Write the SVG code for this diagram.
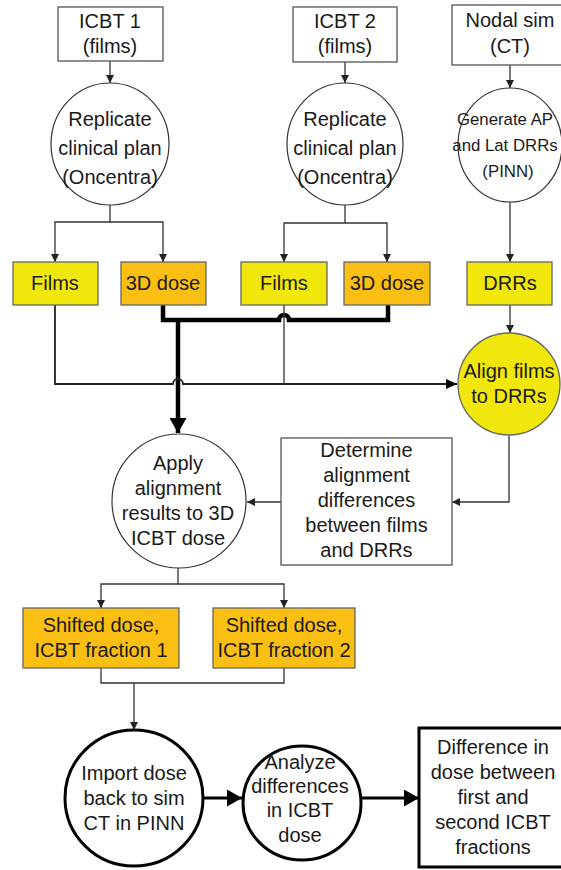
<svg xmlns="http://www.w3.org/2000/svg" width="561" height="870" viewBox="0 0 561 870">
<style>
text{font-family:"Liberation Sans",Arial,sans-serif;font-size:20px;fill:#1a1a1a;text-anchor:middle}
.s{font-size:16.8px}
.box{fill:#fff;stroke:#555;stroke-width:1.3}
.yel{fill:#f2e70c;stroke:#666;stroke-width:1.3}
.org{fill:#fbbf14;stroke:#666;stroke-width:1.3}
.circ{fill:#fff;stroke:#333;stroke-width:1.2}
.bold{fill:#fff;stroke:#000;stroke-width:3}
.ln{fill:none;stroke:#333;stroke-width:1.3}
.thk{fill:none;stroke:#000;stroke-width:4.5}
.med{fill:none;stroke:#222;stroke-width:1.8}
.b3{fill:none;stroke:#000;stroke-width:3}
</style>
<defs>
<marker id="a" viewBox="0 0 8 8" refX="8" refY="4" markerWidth="8" markerHeight="8" markerUnits="userSpaceOnUse" orient="auto"><path d="M0,0L8,4L0,8z" fill="#222"/></marker>
<marker id="m" viewBox="0 0 11 10" refX="11" refY="5" markerWidth="11" markerHeight="10" markerUnits="userSpaceOnUse" orient="auto"><path d="M0,0L11,5L0,10z" fill="#000"/></marker>
<marker id="t" viewBox="0 0 15 17" refX="15" refY="8.5" markerWidth="15" markerHeight="17" markerUnits="userSpaceOnUse" orient="auto"><path d="M0,0L15,8.5L0,17z" fill="#000"/></marker>
</defs>
<g id="connectors">
<path class="ln" d="M110,61V83" marker-end="url(#a)"/>
<path class="ln" d="M345,62V83" marker-end="url(#a)"/>
<path class="ln" d="M510,65V88" marker-end="url(#a)"/>
<path class="ln" d="M110,205V222H55V262" marker-end="url(#a)"/>
<path class="ln" d="M110,222H163V262" marker-end="url(#a)"/>
<path class="ln" d="M345,205V223H284V262" marker-end="url(#a)"/>
<path class="ln" d="M345,223H387V262" marker-end="url(#a)"/>
<path class="ln" d="M510,202V262" marker-end="url(#a)"/>
<path class="ln" d="M510,305V333" marker-end="url(#a)"/>
<path class="thk" d="M163,305V320H279a5,5 0 0 1 10,0H388V305"/>
<path class="thk" d="M178,320V433" marker-end="url(#t)"/>
<path class="med" d="M55,305V384H173a5,5 0 0 1 10,0H457" marker-end="url(#m)"/>
<path class="ln" d="M284,305V384"/>
<path class="ln" d="M509,436V502H452" marker-end="url(#a)"/>
<path class="ln" d="M281,502H247" marker-end="url(#a)"/>
<path class="ln" d="M178,568V584H101V608" marker-end="url(#a)"/>
<path class="ln" d="M178,584H284V608" marker-end="url(#a)"/>
<path class="ln" d="M101,668V683H284V668"/>
<path class="ln" d="M134,683V730" marker-end="url(#a)"/>
<path class="b3" d="M203,798H242" marker-end="url(#t)"/>
<path class="b3" d="M362,798H419" marker-end="url(#t)"/>
</g>
<g id="icbt1"><rect class="box" x="58" y="7" width="105" height="54"/><text x="110" y="28">ICBT 1</text><text x="110" y="53">(films)</text></g>
<g id="icbt2"><rect class="box" x="293" y="7" width="104" height="55"/><text x="345" y="28">ICBT 2</text><text x="345" y="53">(films)</text></g>
<g id="nodal"><rect class="box" x="452" y="5" width="116" height="60"/><text x="510" y="27">Nodal sim</text><text x="510" y="53">(CT)</text></g>
<g id="replicate1"><ellipse class="circ" cx="110" cy="144" rx="59" ry="61"/><text x="110" y="126">Replicate</text><text x="110" y="155">clinical plan</text><text x="110" y="184">(Oncentra)</text></g>
<g id="replicate2"><ellipse class="circ" cx="345" cy="144" rx="58" ry="61"/><text x="345" y="126">Replicate</text><text x="345" y="155">clinical plan</text><text x="345" y="184">(Oncentra)</text></g>
<g id="generate"><ellipse class="circ" cx="510" cy="145" rx="52" ry="57"/><text class="s" x="505" y="125">Generate AP</text><text class="s" x="505" y="151">and Lat DRRs</text><text class="s" x="508" y="177">(PINN)</text></g>
<g id="films1"><rect class="yel" x="13" y="262" width="85" height="43"/><text x="55" y="290">Films</text></g>
<g id="dose1"><rect class="org" x="121" y="262" width="85" height="43"/><text x="163" y="290">3D dose</text></g>
<g id="films2"><rect class="yel" x="241" y="262" width="86" height="43"/><text x="284" y="290">Films</text></g>
<g id="dose2"><rect class="org" x="344" y="262" width="86" height="43"/><text x="387" y="290">3D dose</text></g>
<g id="drrs"><rect class="yel" x="467" y="262" width="85" height="43"/><text x="510" y="290">DRRs</text></g>
<g id="align"><circle class="yel" cx="509" cy="384" r="51"/><text x="509" y="378">Align films</text><text x="509" y="403">to DRRs</text></g>
<g id="determine"><rect class="box" x="281" y="438" width="171" height="127"/><text x="366.5" y="457">Determine</text><text x="366.5" y="482">alignment</text><text x="366.5" y="507">differences</text><text x="366.5" y="532">between films</text><text x="366.5" y="557">and DRRs</text></g>
<g id="apply"><circle class="circ" cx="179" cy="501" r="67"/><text x="178" y="470">Apply</text><text x="178" y="495">alignment</text><text x="178" y="520">results to 3D</text><text x="178" y="545">ICBT dose</text></g>
<g id="shift1"><rect class="org" x="23" y="608" width="156" height="60"/><text x="101" y="632">Shifted dose,</text><text x="101" y="657">ICBT fraction 1</text></g>
<g id="shift2"><rect class="org" x="213" y="608" width="142" height="60"/><text x="284" y="632">Shifted dose,</text><text x="284" y="657">ICBT fraction 2</text></g>
<g id="import"><ellipse class="bold" cx="134" cy="798" rx="69" ry="68"/><text x="134" y="780">Import dose</text><text x="134" y="805">back to sim</text><text x="134" y="830">CT in PINN</text></g>
<g id="analyze"><ellipse class="bold" cx="302" cy="803" rx="59" ry="57"/><text x="300" y="769">Analyze</text><text x="300" y="793">differences</text><text x="300" y="817">in ICBT</text><text x="300" y="842">dose</text></g>
<g id="difference"><rect class="bold" x="419" y="728" width="148" height="139"/><text x="493" y="754">Difference in</text><text x="493" y="779">dose between</text><text x="493" y="804">first and</text><text x="493" y="829">second ICBT</text><text x="493" y="854">fractions</text></g>
</svg>
